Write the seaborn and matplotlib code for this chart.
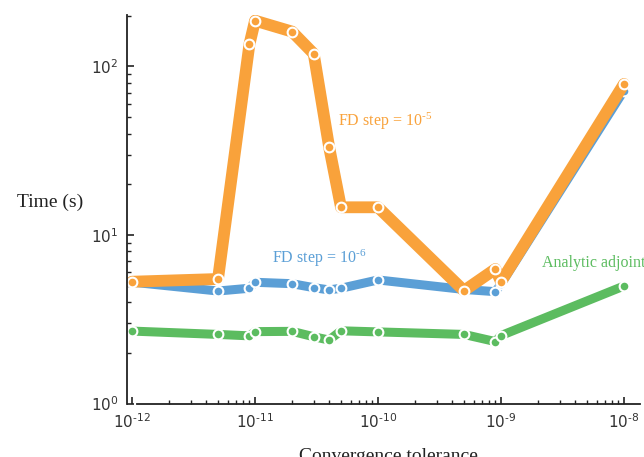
import numpy as np
import pandas as pd
import seaborn as sns
import matplotlib.pyplot as plt
from matplotlib.ticker import FuncFormatter

# convergence tolerances
tol = [1e-12, 5e-12, 9e-12, 1e-11, 2e-11, 3e-11, 4e-11, 5e-11,
       1e-10, 5e-10, 9e-10, 1e-9, 1e-8]

# run times (s)
t_fd5 = [5.28, 5.48, 135, 187, 161, 119, 33.4, 14.6, 14.6, 4.67, 6.28, 5.28, 78.7]
t_fd6 = [5.25, 4.65, 4.83, 5.24, 5.14, 4.87, 4.72, 4.83, 5.41, 4.75, 4.61, 5.1, 72.0]
t_adj = [2.69, 2.57, 2.52, 2.67, 2.68, 2.49, 2.38, 2.70, 2.66, 2.57, 2.33, 2.53, 4.98]

c_orange = '#F9A23B'
c_blue = '#5B9FD6'
c_green = '#5CBC60'

sns.set_style('ticks')
plt.rcParams['font.family'] = ['DejaVu Sans']
plt.rcParams['axes.unicode_minus'] = False
plt.rcParams['mathtext.default'] = 'regular'

fig = plt.figure(figsize=(6.44, 4.57), dpi=100)
ax = fig.add_axes([127 / 644, 53.5 / 457, 513 / 644, 388.5 / 457])

df = pd.DataFrame({'tol': tol, 'fd5': t_fd5, 'fd6': t_fd6, 'adj': t_adj})

for col, c, lw in [('adj', c_green, 6.5), ('fd6', c_blue, 6.5), ('fd5', c_orange, 8.5)]:
    sns.lineplot(data=df, x='tol', y=col, ax=ax, color=c, linewidth=lw,
                 marker='o', markersize=7, markerfacecolor=c,
                 markeredgecolor='white', markeredgewidth=1.5, sort=False)

ax.set_xscale('log')
ax.set_yscale('log')
ax.set_xlim(9.1e-13, 1.35e-8)
ax.set_ylim(1, 202)

# spines / ticks
sns.despine(ax=ax)
ax.spines['bottom'].set_bounds(1.1e-12, 1.35e-8)
for s in ('left', 'bottom'):
    ax.spines[s].set_color('#222222')
    ax.spines[s].set_linewidth(1.3)
ax.tick_params(which='major', direction='in', length=5, width=1.2, colors='#222222',
               labelsize=11, labelcolor='#333333', pad=6)
ax.tick_params(which='minor', direction='in', length=3, width=1.0, colors='#222222')

def fmt(v, pos):
    e = int(round(np.log10(v)))
    s = str(e).replace('-', '\u2010')
    return '10$^{%s}$' % s

ax.xaxis.set_major_formatter(FuncFormatter(fmt))
ax.yaxis.set_major_formatter(FuncFormatter(fmt))
ax.set_xticks([1e-12, 1e-11, 1e-10, 1e-9, 1e-8])
ax.set_yticks([1, 10, 100])

serif = ['Liberation Serif', 'DejaVu Serif']
ax.set_xlabel('Convergence tolerance', family=serif, fontsize=14, color='#222222')
ax.set_ylabel('Time (s)', family=serif, fontsize=14, rotation=0, color='#222222',
              ha='center', va='center')
ax.xaxis.set_label_coords(0.509, -0.115)
ax.yaxis.set_label_coords(-0.15, 0.519)

ax.text(4.73e-11, 47.5, 'FD step = 10$^{\u20105}$', family=serif, fontsize=11.5,
        color=c_orange, ha='left', va='center')
ax.text(1.37e-11, 7.3, 'FD step = 10$^{\u20106}$', family=serif, fontsize=11.5,
        color=c_blue, ha='left', va='center')
ax.text(2.16e-9, 6.82, 'Analytic adjoint', family=serif, fontsize=11.5,
        color=c_green, ha='left', va='center')

fig.savefig('out.png', dpi=100)
